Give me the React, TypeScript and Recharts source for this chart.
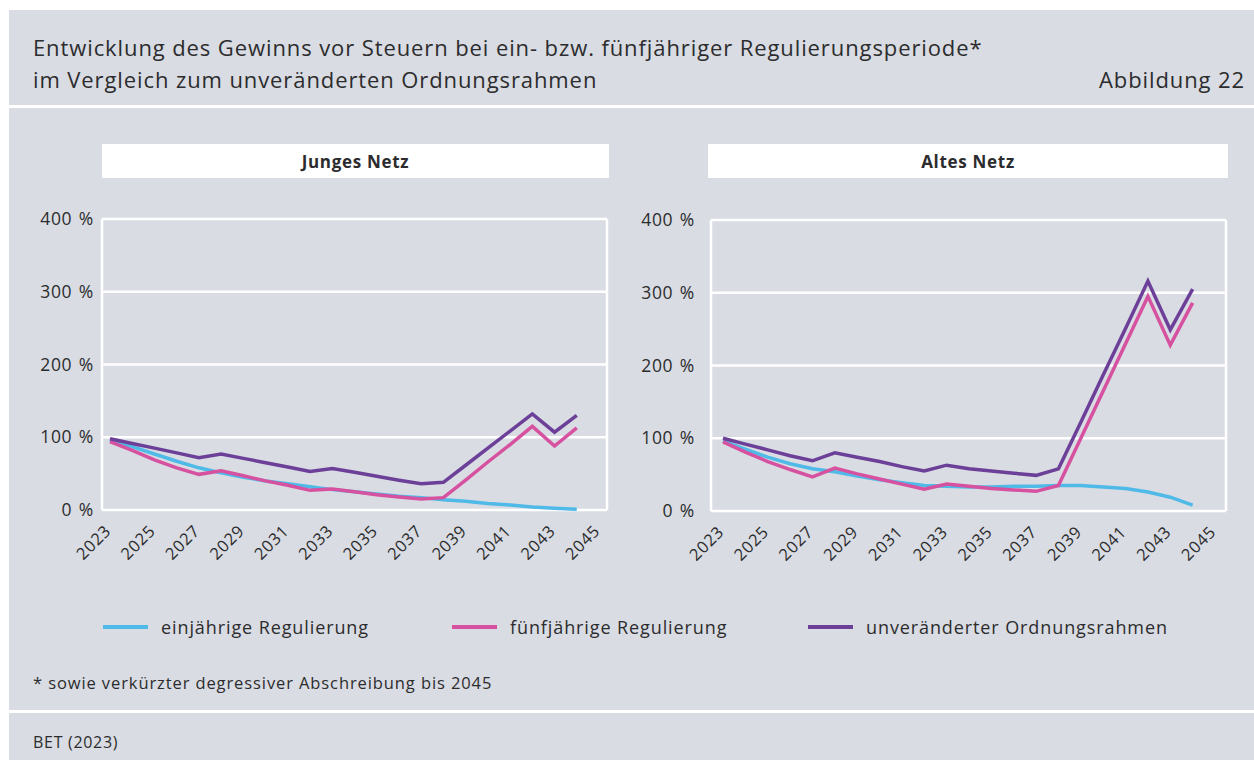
import React from 'react';
import { LineChart, Line, XAxis, YAxis, CartesianGrid } from 'recharts';

// Jahre 2023 bis 2045 (Werte bis 2044)
const years = [
  2023, 2024, 2025, 2026, 2027, 2028, 2029, 2030, 2031, 2032, 2033, 2034,
  2035, 2036, 2037, 2038, 2039, 2040, 2041, 2042, 2043, 2044, 2045,
];
const yearTicks = [2023, 2025, 2027, 2029, 2031, 2033, 2035, 2037, 2039, 2041, 2043, 2045];
const valueTicks = [0, 100, 200, 300, 400];

// Junges Netz, Gewinn vor Steuern in % (2023 = ~100 %)
const jungEinjaehrig = [96, 87, 77, 67, 58, 51, 45, 40, 36, 32, 28, 25, 22, 19, 17, 14, 12, 9, 7, 4, 2.5, 1];
const jungFuenfjaehrig = [94, 82, 69, 58, 49, 54, 47, 40, 34, 27, 29, 25, 21, 18, 15, 17, 41, 66, 90, 115, 88, 113];
const jungUnveraendert = [98, 91.5, 85, 78.5, 72, 77, 71, 65, 59, 53, 57, 52, 46.5, 41, 36, 38, 61.5, 85, 108.5, 132, 107, 130];

// Altes Netz
const altEinjaehrig = [96, 85, 74, 65, 58, 54, 48, 43, 39, 35, 34, 33, 33, 34, 34, 35, 35, 33, 31, 26, 19, 8];
const altFuenfjaehrig = [95, 81, 68, 57, 47, 59, 51, 44, 37, 30, 37, 34, 31, 29, 27, 35, 100, 165, 230, 295, 228, 286];
const altUnveraendert = [100, 92, 84, 76, 69, 80, 74, 68, 61, 55, 63, 58, 55, 52, 49, 58, 122, 187, 251, 316, 249, 305];

const series = [
  { key: 'ein', name: 'einjährige Regulierung', color: '#4fb9e8' },
  { key: 'fuenf', name: 'fünfjährige Regulierung', color: '#d6519f' },
  { key: 'unv', name: 'unveränderter Ordnungsrahmen', color: '#6c3f98' },
];

const BG = '#d9dce2';
const TEXT = '#2c2c2e';
const FONT = '"Open Sans", "Noto Sans", sans-serif';

const buildRows = (ein: number[], fuenf: number[], unv: number[]) =>
  years.map((year, i) => ({
    year,
    ein: i < ein.length ? ein[i] : null,
    fuenf: i < fuenf.length ? fuenf[i] : null,
    unv: i < unv.length ? unv[i] : null,
  }));

const jungData = buildRows(jungEinjaehrig, jungFuenfjaehrig, jungUnveraendert);
const altData = buildRows(altEinjaehrig, altFuenfjaehrig, altUnveraendert);

const YearTick = (props: any) => {
  const { x, y, payload } = props;
  const ax = x + 2;
  const ay = y + 22;
  return (
    <text
      x={ax}
      y={ay}
      transform={`rotate(-45, ${ax}, ${ay})`}
      textAnchor="end"
      fontSize={16.5}
      fontFamily={FONT}
      fill={TEXT}
    >
      {payload.value}
    </text>
  );
};

interface PanelProps {
  data: any[];
  width: number;
  yAxisWidth: number;
  labelGap: number;
  marginRight: number;
  marginTop: number;
  xAxisHeight: number;
  padLeft: number;
  padRight: number;
}

const Panel: React.FC<PanelProps> = ({
  data, width, yAxisWidth, labelGap, marginRight, marginTop, xAxisHeight, padLeft, padRight,
}) => (
  <LineChart
    width={width}
    height={380}
    data={data}
    margin={{ top: marginTop, right: marginRight, bottom: 0, left: 0 }}
  >
    <CartesianGrid
      stroke="#ffffff"
      strokeWidth={2.5}
      verticalCoordinatesGenerator={({ offset }: any) => [offset.left, offset.left + offset.width]}
    />
    <XAxis
      dataKey="year"
      ticks={yearTicks}
      interval={0}
      axisLine={false}
      tickLine={false}
      tickSize={0}
      tickMargin={0}
      height={xAxisHeight}
      padding={{ left: padLeft, right: padRight }}
      tick={<YearTick />}
    />
    <YAxis
      domain={[0, 400]}
      ticks={valueTicks}
      interval={0}
      width={yAxisWidth}
      axisLine={false}
      tickLine={false}
      tickSize={0}
      tickMargin={labelGap}
      tickFormatter={(v: number) => `${v}\u2004%`}
      tick={{ fontSize: 17.5, fill: TEXT, fontFamily: FONT }}
    />
    {series.map((s) => (
      <Line
        key={s.key}
        type="linear"
        dataKey={s.key}
        name={s.name}
        stroke={s.color}
        strokeWidth={3.5}
        dot={false}
        activeDot={false}
        isAnimationActive={false}
      />
    ))}
  </LineChart>
);

const PanelTitle = ({ left, width, text }: { left: number; width: number; text: string }) => (
  <div
    style={{
      position: 'absolute',
      left,
      top: 144,
      width,
      height: 34,
      background: '#ffffff',
      display: 'flex',
      alignItems: 'center',
      justifyContent: 'center',
      fontWeight: 700,
      fontSize: 17,
      color: TEXT,
    }}
  >
    {text}
  </div>
);

export default function App() {
  return (
    <div
      style={{
        position: 'absolute',
        left: 0,
        top: 0,
        width: 1254,
        height: 760,
        background: '#ffffff',
        fontFamily: FONT,
        color: TEXT,
        letterSpacing: '0.7px',
        overflow: 'hidden',
      }}
    >
      <div style={{ position: 'absolute', left: 9, top: 10, right: 0, bottom: 0, background: BG }} />

      {/* Titel */}
      <div style={{ position: 'absolute', left: 33, top: 31, fontSize: 22, lineHeight: '32px', letterSpacing: '0.9px' }}>
        Entwicklung des Gewinns vor Steuern bei ein- bzw. fünfjähriger Regulierungsperiode*
        <br />
        im Vergleich zum unveränderten Ordnungsrahmen
      </div>
      <div style={{ position: 'absolute', right: 9, top: 63, fontSize: 22, lineHeight: '32px', letterSpacing: '0.9px' }}>
        Abbildung 22
      </div>
      <div style={{ position: 'absolute', left: 9, right: 0, top: 105, height: 3, background: '#ffffff' }} />

      <PanelTitle left={102} width={507} text="Junges Netz" />
      <PanelTitle left={708} width={520} text="Altes Netz" />

      <div style={{ position: 'absolute', left: 20, top: 200 }}>
        <Panel
          data={jungData}
          width={600}
          yAxisWidth={82}
          labelGap={8}
          marginRight={13}
          marginTop={19}
          xAxisHeight={70}
          padLeft={8}
          padRight={8}
        />
      </div>
      <div style={{ position: 'absolute', left: 620, top: 200 }}>
        <Panel
          data={altData}
          width={620}
          yAxisWidth={91}
          labelGap={16}
          marginRight={14}
          marginTop={20}
          xAxisHeight={69}
          padLeft={12}
          padRight={11}
        />
      </div>

      {/* Legende */}
      {series.map((s, i) => (
        <div
          key={s.key}
          style={{
            position: 'absolute',
            left: [103, 452, 808][i],
            top: 614,
            height: 26,
            display: 'flex',
            alignItems: 'center',
            fontSize: 18,
            letterSpacing: '0.9px',
          }}
        >
          <span style={{ display: 'inline-block', width: 45, height: 4, background: s.color, marginRight: 13 }} />
          {s.name}
        </div>
      ))}

      <div style={{ position: 'absolute', left: 33, top: 672, fontSize: 16.5, lineHeight: '22px', letterSpacing: '0.9px' }}>
        * sowie verkürzter degressiver Abschreibung bis 2045
      </div>
      <div style={{ position: 'absolute', left: 9, right: 0, top: 710, height: 3, background: '#ffffff' }} />
      <div style={{ position: 'absolute', left: 33, top: 731, fontSize: 16, lineHeight: '22px' }}>
        BET (2023)
      </div>
    </div>
  );
}
